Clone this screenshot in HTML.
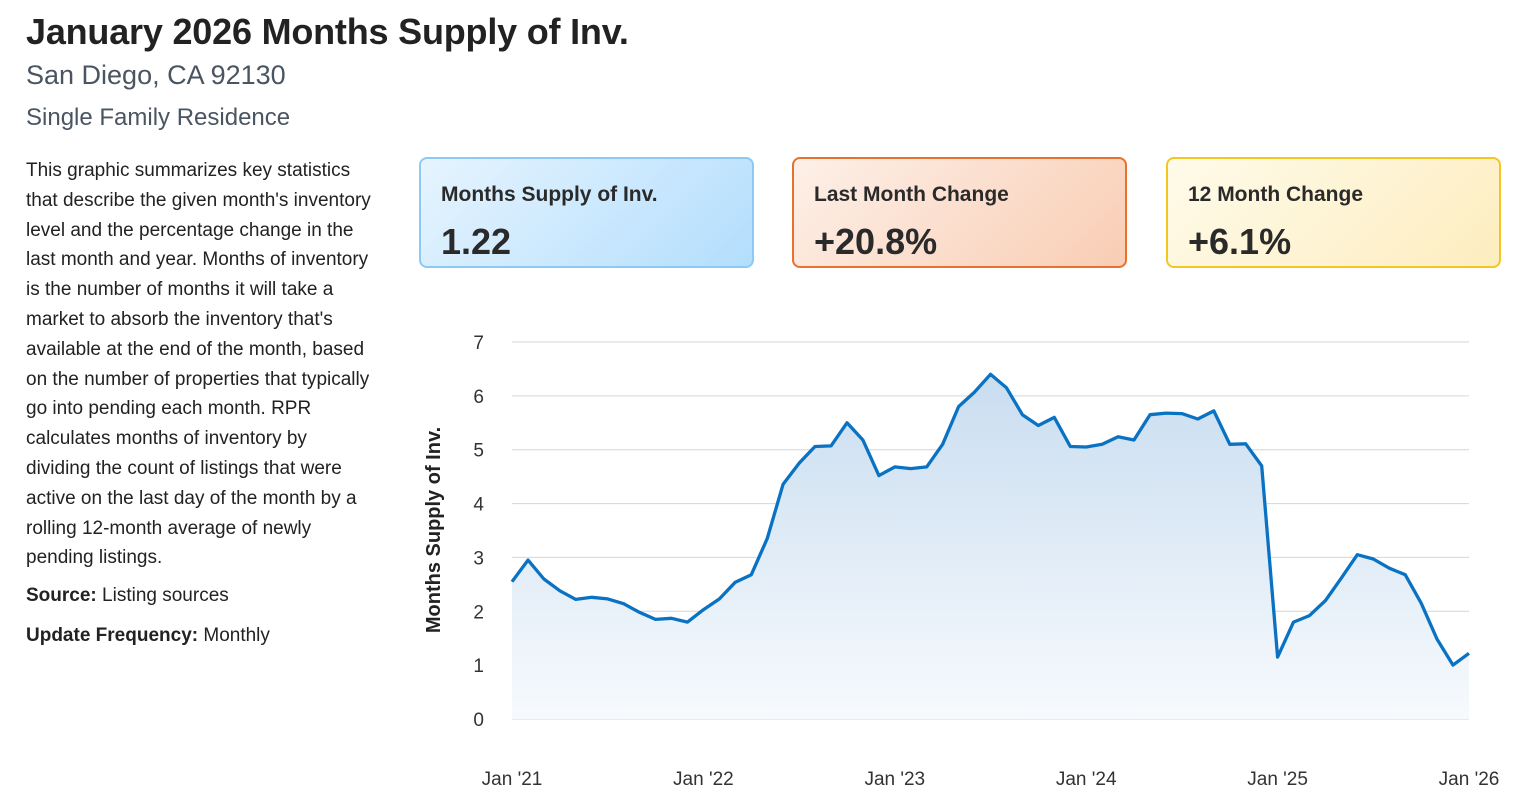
<!DOCTYPE html>
<html><head><meta charset="utf-8"><style>
body{margin:0;width:1524px;height:806px;background:#fff;font-family:"Liberation Sans",sans-serif;color:#222;position:relative;overflow:hidden}
.abs{position:absolute}
h1{position:absolute;left:26px;top:11px;margin:0;font-size:36px;font-weight:bold;color:#222;letter-spacing:-0.2px}
.sub1{left:26px;top:60px;font-size:27px;color:#4a5562}
.sub2{left:26px;top:104px;font-size:24px;color:#4a5562}
.desc{left:26px;top:156px;width:350px;font-size:19px;line-height:29.8px;color:#222}
.card{position:absolute;top:157px;width:335px;height:111px;border-radius:8px;box-sizing:border-box;border:2px solid}
.card .l{position:absolute;left:20px;top:24px;font-size:21px;font-weight:bold;color:#2a2a2a}
.card .v{position:absolute;left:20px;top:62px;font-size:36px;font-weight:bold;color:#2a2a2a}
</style></head><body>
<h1>January 2026 Months Supply of Inv.</h1>
<div class="abs sub1">San Diego, CA 92130</div>
<div class="abs sub2">Single Family Residence</div>
<div class="abs desc">This graphic summarizes key statistics that describe the given month's inventory level and the percentage change in the last month and year. Months of inventory is the number of months it will take a market to absorb the inventory that's available at the end of the month, based on the number of properties that typically go into pending each month. RPR calculates months of inventory by dividing the count of listings that were active on the last day of the month by a rolling 12-month average of newly pending listings.
<div style="margin-top:8px"><b>Source:</b> Listing sources</div>
<div style="margin-top:10px"><b>Update Frequency:</b> Monthly</div></div>
<div class="card" style="left:419px;border-color:#8ccaf5;background:linear-gradient(135deg,#e6f4fe,#b3defd)"><div class="l">Months Supply of Inv.</div><div class="v">1.22</div></div>
<div class="card" style="left:792px;border-color:#e8712d;background:linear-gradient(135deg,#fdf0e8,#f9cdb4)"><div class="l">Last Month Change</div><div class="v">+20.8%</div></div>
<div class="card" style="left:1166px;border-color:#f3c623;background:linear-gradient(135deg,#fffbea,#fdedbf)"><div class="l">12 Month Change</div><div class="v">+6.1%</div></div>
<svg class="abs" style="left:0;top:0" width="1524" height="806" id="chart">
<defs><linearGradient id="g" x1="0" y1="0" x2="0" y2="1"><stop offset="0" stop-color="#c9ddf0"/><stop offset="1" stop-color="#f7fafd"/></linearGradient></defs>
<g id="grid"></g><path id="area" fill="url(#g)"/><path id="line" fill="none" stroke="#0a72c2" stroke-width="3.3" stroke-linejoin="round"/><g id="labels"></g>
<text x="440" y="530" transform="rotate(-90 440 530)" text-anchor="middle" font-size="20" font-weight="bold" fill="#222">Months Supply of Inv.</text>
</svg>
<script>
const values=[2.55,2.95,2.6,2.38,2.22,2.26,2.23,2.14,1.98,1.85,1.87,1.8,2.03,2.23,2.54,2.68,3.35,4.36,4.75,5.06,5.07,5.5,5.18,4.52,4.68,4.65,4.68,5.1,5.8,6.07,6.4,6.15,5.65,5.45,5.6,5.06,5.05,5.1,5.24,5.18,5.65,5.68,5.67,5.57,5.72,5.1,5.11,4.7,1.15,1.8,1.92,2.2,2.62,3.05,2.97,2.8,2.68,2.15,1.48,1.0,1.22];
const yTicks=[0,1,2,3,4,5,6,7];
const xLabels=["Jan '21","Jan '22","Jan '23","Jan '24","Jan '25","Jan '26"];
const X0=512,X1=1469,Y0=719,Y7=342;
const xs=i=>X0+(X1-X0)*i/(values.length-1);
const ys=v=>Y0-(Y0-Y7)*v/7;
const NS="http://www.w3.org/2000/svg";
const grid=document.getElementById('grid'),labels=document.getElementById('labels');
yTicks.forEach(t=>{
 const l=document.createElementNS(NS,'line');
 l.setAttribute('x1',X0);l.setAttribute('x2',X1);l.setAttribute('y1',ys(t));l.setAttribute('y2',ys(t));
 l.setAttribute('stroke','#d6d6d6');
 
 
 grid.appendChild(l);
 const tx=document.createElementNS(NS,'text');
 tx.setAttribute('x',484);tx.setAttribute('y',ys(t)+7);tx.setAttribute('font-size','19');tx.setAttribute('fill','#333');tx.setAttribute('text-anchor','end');
 tx.textContent=t;
 
 
 labels.appendChild(tx);
});
xLabels.forEach((s,k)=>{
 const tx=document.createElementNS(NS,'text');
 tx.setAttribute('x',xs(k*12));tx.setAttribute('y',785);tx.setAttribute('font-size','19');tx.setAttribute('fill','#333');tx.setAttribute('text-anchor','middle');
 tx.textContent=s;
 
 
 labels.appendChild(tx);
});
let d=values.map((v,i)=>(i?'L':'M')+xs(i).toFixed(1)+','+ys(v).toFixed(1)).join('');
const line=document.getElementById('line');line.setAttribute('d',d);


const area=document.getElementById('area');area.setAttribute('d',d+'L'+X1+','+Y0+'L'+X0+','+Y0+'Z');


</script>
</body></html>
